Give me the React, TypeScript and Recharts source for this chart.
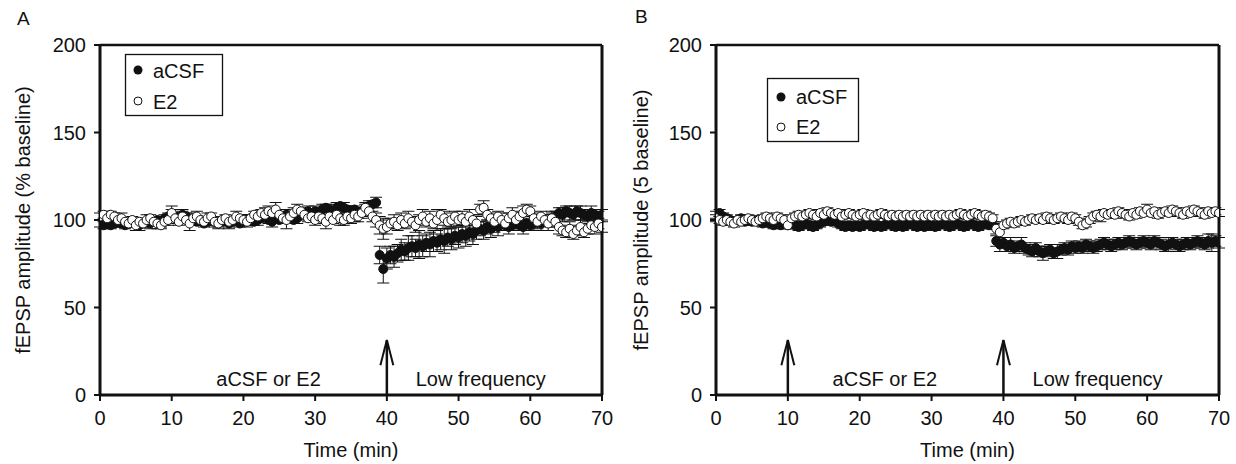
import React from 'react';
import {
  ScatterChart,
  Scatter,
  XAxis,
  YAxis,
  ErrorBar,
  ReferenceLine,
  ReferenceDot,
  Label,
} from 'recharts';

const FONT = '"Liberation Sans", Arial, Helvetica, sans-serif';
const INK = '#111';

const X_TICKS = [0, 10, 20, 30, 40, 50, 60, 70];
const Y_TICKS = [0, 50, 100, 150, 200];

// sampling times (min), every 30 s
const TIMES = Array.from({ length: 141 }, (_, i) => i * 0.5);

// Panel A — aCSF (filled)
const A_ACSF = [
  98, 97, 98, 97, 98, 99, 98, 97, 98, 99,
  98, 97, 98, 99, 98, 99, 100, 99, 101, 102,
  103, 102, 101, 103, 102, 100, 101, 99, 100, 98,
  99, 100, 99, 98, 99, 100, 98, 99, 100, 98,
  99, 100, 101, 99, 100, 101, 102, 100, 99, 101,
  100, 101, 103, 102, 100, 101, 103, 104, 105, 104,
  105, 104, 106, 107, 106, 105, 107, 108, 107, 106,
  105, 106, 104, 105, 107, 108, 109, 110, 80, 72,
  78, 80, 79, 81, 83, 82, 84, 85, 84, 86,
  85, 87, 86, 88, 87, 89, 88, 90, 89, 91,
  90, 92, 91, 93, 92, 94, 95, 94, 96, 95,
  97, 96, 98, 97, 96, 97, 98, 97, 96, 98,
  97, 98, 99, 98, 100, 99, 101, 102, 104, 103,
  105, 104, 103, 105, 104, 103, 102, 104, 103, 102,
  103,
];
const A_ACSF_ERR = [
  2, 2, 2, 2, 2, 3, 2, 2, 2, 2,
  2, 3, 2, 2, 3, 2, 2, 3, 2, 2,
  3, 2, 2, 3, 2, 2, 3, 2, 2, 2,
  2, 2, 3, 2, 2, 2, 3, 2, 2, 2,
  2, 3, 2, 2, 3, 2, 2, 2, 3, 2,
  2, 2, 3, 2, 2, 3, 2, 2, 3, 2,
  3, 2, 3, 2, 3, 2, 3, 2, 3, 2,
  3, 2, 3, 2, 3, 3, 2, 3, 5, 8,
  6, 5, 6, 5, 6, 5, 7, 6, 5, 8,
  6, 5, 7, 6, 5, 6, 7, 5, 6, 5,
  6, 5, 6, 5, 6, 5, 4, 5, 4, 5,
  4, 5, 4, 3, 4, 3, 4, 3, 4, 3,
  3, 4, 3, 4, 3, 3, 4, 3, 3, 4,
  3, 4, 3, 3, 4, 3, 3, 4, 3, 3,
  3,
];

// Panel A — E2 (open)
const A_E2 = [
  102, 103, 101, 103, 102, 100, 101, 99, 98, 100,
  97, 99, 98, 100, 101, 99, 98, 97, 99, 100,
  104, 101, 99, 102, 100, 98, 101, 102, 100, 99,
  101, 102, 99, 98, 100, 101, 99, 100, 102, 101,
  100, 99, 101, 103, 102, 104, 103, 105, 104, 106,
  103, 101, 100, 102, 104, 106, 105, 103, 101, 102,
  100, 102, 101, 99, 102, 100, 103, 101, 100, 102,
  101, 103, 102, 104, 107, 105, 102, 100, 97, 95,
  96, 98, 99, 97, 100, 98, 101, 99, 97, 100,
  102, 99, 101, 98, 100, 103, 101, 99, 100, 102,
  100, 101, 99, 102, 100, 98, 106, 107, 103, 101,
  99, 102, 100, 98, 101, 103, 100, 102, 104, 106,
  105, 101, 99, 102, 100, 98, 101, 99, 96, 94,
  93, 95, 92, 94, 96, 93, 95, 97, 96, 98,
  96,
];
const A_E2_ERR = [
  2, 2, 3, 2, 2, 2, 3, 2, 2, 2,
  3, 2, 2, 3, 2, 2, 3, 2, 2, 3,
  4, 3, 2, 3, 2, 4, 2, 3, 2, 2,
  3, 2, 2, 3, 2, 2, 3, 2, 3, 2,
  2, 3, 2, 2, 3, 2, 4, 3, 2, 4,
  3, 2, 5, 2, 3, 3, 2, 3, 2, 3,
  3, 2, 3, 4, 3, 2, 3, 4, 3, 3,
  3, 4, 3, 3, 2, 3, 3, 4, 5, 6,
  4, 3, 4, 3, 4, 3, 4, 3, 4, 3,
  4, 3, 4, 3, 6, 3, 4, 3, 4, 3,
  3, 4, 3, 4, 3, 4, 3, 4, 3, 3,
  4, 3, 4, 3, 3, 4, 3, 3, 4, 3,
  3, 3, 4, 3, 3, 4, 3, 3, 4, 3,
  3, 4, 3, 3, 4, 3, 3, 3, 4, 3,
  3,
];

// Panel B — aCSF (filled)
const B_ACSF = [
  103, 104, 102, 101, 100, 99, 100, 101, 99, 100,
  99, 100, 99, 98, 99, 98, 97, 98, 97, 98,
  97, 98, 97, 96, 97, 98, 97, 96, 97, 98,
  99, 100, 99, 100, 98, 97, 96, 97, 96, 97,
  96, 97, 98, 97, 96, 97, 96, 97, 98, 97,
  96, 97, 96, 97, 98, 97, 96, 97, 96, 97,
  97, 96, 97, 98, 97, 96, 97, 98, 97, 96,
  97, 98, 97, 96, 97, 98, 97, 97, 88, 86,
  87, 85, 86, 84, 85, 86, 84, 83, 82, 84,
  82, 81, 82, 83, 81, 82, 83, 84, 83, 85,
  84, 85, 84, 86, 85, 84, 85, 86, 87, 86,
  85, 86, 87, 86, 87, 88, 87, 86, 87, 88,
  87, 86, 88, 87, 86, 85, 86, 87, 86, 85,
  86, 87, 86, 87, 88, 87, 86, 88, 87, 88,
  87,
];
const B_ACSF_ERR = [
  2, 2, 2, 2, 2, 2, 2, 2, 2, 2,
  2, 2, 2, 2, 2, 2, 2, 2, 2, 2,
  2, 2, 2, 2, 2, 2, 2, 2, 2, 2,
  2, 2, 2, 2, 2, 2, 2, 2, 2, 2,
  2, 2, 2, 2, 2, 2, 2, 2, 2, 2,
  2, 2, 2, 2, 2, 2, 2, 2, 2, 2,
  2, 2, 2, 2, 2, 2, 2, 2, 2, 2,
  2, 2, 2, 2, 2, 2, 2, 2, 3, 4,
  3, 3, 4, 3, 3, 4, 3, 3, 3, 3,
  3, 4, 3, 3, 3, 4, 3, 3, 3, 3,
  3, 3, 3, 3, 3, 3, 3, 3, 3, 3,
  3, 3, 3, 3, 3, 3, 3, 3, 3, 3,
  3, 3, 3, 3, 3, 3, 4, 3, 3, 3,
  3, 3, 3, 3, 3, 3, 3, 4, 5, 3,
  3,
];

// Panel B — E2 (open)
const B_E2 = [
  101, 100, 99, 100, 99, 98, 100, 99, 100, 101,
  100, 99, 100, 101, 102, 101, 100, 102, 101, 100,
  97, 101, 102, 103, 102, 103, 104, 103, 102, 104,
  103, 105, 104, 103, 104, 102, 103, 104, 103, 102,
  103, 104, 102, 103, 102, 103, 104, 103, 102, 103,
  102, 103, 102, 103, 102, 103, 102, 103, 102, 103,
  102, 103, 102, 103, 102, 103, 102, 103, 104, 103,
  102, 103, 104, 103, 102, 103, 102, 101, 95, 93,
  97, 98, 99, 98, 99, 100, 99, 100, 101, 100,
  101, 100, 102, 101, 100, 101, 102, 101, 100, 102,
  101, 99, 97, 98, 100, 102, 103, 102, 104, 103,
  104, 103, 105, 104, 103, 102, 104, 103, 105, 104,
  106, 104, 105, 103, 104, 105, 104, 106, 105, 104,
  103, 105, 104, 106, 105, 104, 103, 105, 104, 105,
  104,
];
const B_E2_ERR = [
  2, 2, 2, 2, 2, 2, 2, 2, 2, 2,
  2, 2, 2, 2, 2, 2, 2, 2, 2, 2,
  2, 2, 2, 2, 2, 2, 2, 2, 2, 2,
  2, 2, 2, 2, 2, 2, 2, 2, 2, 2,
  2, 2, 2, 2, 2, 2, 2, 2, 2, 2,
  2, 2, 2, 2, 2, 2, 2, 2, 2, 2,
  2, 2, 2, 2, 2, 2, 2, 2, 2, 2,
  2, 2, 2, 2, 2, 2, 2, 2, 3, 3,
  2, 2, 2, 2, 2, 2, 2, 2, 2, 2,
  2, 2, 2, 2, 2, 2, 2, 2, 2, 2,
  2, 2, 2, 2, 2, 2, 2, 3, 2, 2,
  2, 2, 2, 2, 2, 2, 2, 2, 2, 2,
  3, 2, 2, 2, 2, 2, 2, 2, 2, 2,
  2, 2, 2, 2, 2, 2, 2, 2, 2, 2,
  2,
];

const A_ARROWS = [40];
const B_ARROWS = [10, 40];
const NOTE_TREATMENT = 'aCSF or E2';
const NOTE_STIM = 'Low frequency';

function build(values: number[], errs: number[]) {
  return TIMES.map((t, i) => ({ t, v: values[i], e: errs[i] }));
}

const filledShape = (p: any) => (
  <circle cx={p.cx} cy={p.cy} r={4.5} fill={INK} stroke={INK} strokeWidth={1} />
);
const openShape = (p: any) => (
  <circle cx={p.cx} cy={p.cy} r={4.5} fill="#fff" stroke={INK} strokeWidth={1} />
);

const textStyle = { fill: INK, fontSize: 20, fontFamily: FONT };

function Panel(props: {
  acsf: number[];
  acsfErr: number[];
  e2: number[];
  e2Err: number[];
  yTitle: string;
  arrows: number[];
  marginLeft: number;
  marginRight: number;
}) {
  const { acsf, acsfErr, e2, e2Err, yTitle, arrows, marginLeft, marginRight } = props;
  const dAcsf = build(acsf, acsfErr);
  const dE2 = build(e2, e2Err);
  return (
    <ScatterChart
      width={618}
      height={464}
      margin={{ top: 45, right: marginRight, bottom: 0, left: marginLeft }}
    >
      <XAxis
        type="number"
        dataKey="t"
        domain={[0, 70]}
        ticks={X_TICKS}
        interval={0}
        allowDataOverflow
        height={69}
        axisLine={{ stroke: INK, strokeWidth: 3 }}
        tickLine={{ stroke: INK, strokeWidth: 2 }}
        tickSize={6}
        tickMargin={10}
        tick={textStyle}
      >
        <Label value="Time (min)" position="insideBottom" offset={7} style={textStyle} />
      </XAxis>
      <YAxis
        type="number"
        dataKey="v"
        domain={[0, 200]}
        ticks={Y_TICKS}
        interval={0}
        allowDataOverflow
        width={60}
        axisLine={{ stroke: INK, strokeWidth: 3 }}
        tickLine={{ stroke: INK, strokeWidth: 2 }}
        tickSize={6}
        tickMargin={8}
        tick={textStyle}
      >
        <Label
          content={(lp: any) => {
            const vb = lp.viewBox || { x: 0, y: 45, width: 60, height: 350 };
            const cy = vb.y + vb.height / 2;
            const bx = 30;
            return (
              <text
                x={bx}
                y={cy}
                transform={`rotate(-90, ${bx}, ${cy})`}
                textAnchor="middle"
                fill={INK}
                fontSize={20}
                fontFamily={FONT}
              >
                {yTitle}
              </text>
            );
          }}
        />
      </YAxis>
      <ReferenceLine y={200} stroke={INK} strokeWidth={2.5} />
      <ReferenceLine x={70} stroke={INK} strokeWidth={3} />
      {arrows.map((a) => (
        <ReferenceLine
          key={`s${a}`}
          segment={[
            { x: a, y: 0 },
            { x: a, y: 31 },
          ]}
          stroke={INK}
          strokeWidth={2.5}
        />
      ))}
      {arrows.map((a) => (
        <ReferenceLine
          key={`l${a}`}
          segment={[
            { x: a - 0.9, y: 17 },
            { x: a, y: 31.5 },
          ]}
          stroke={INK}
          strokeWidth={2}
        />
      ))}
      {arrows.map((a) => (
        <ReferenceLine
          key={`r${a}`}
          segment={[
            { x: a + 0.9, y: 17 },
            { x: a, y: 31.5 },
          ]}
          stroke={INK}
          strokeWidth={2}
        />
      ))}
      <ReferenceDot
        x={23.5}
        y={9}
        r={0}
        stroke="none"
        fill="none"
        label={{ value: NOTE_TREATMENT, position: 'center', ...textStyle }}
      />
      <ReferenceDot
        x={53.1}
        y={9}
        r={0}
        stroke="none"
        fill="none"
        label={{ value: NOTE_STIM, position: 'center', ...textStyle }}
      />
      <Scatter data={dAcsf} shape={filledShape} isAnimationActive={false}>
        <ErrorBar dataKey="e" direction="y" width={6} stroke={INK} strokeWidth={1} />
      </Scatter>
      <Scatter data={dE2} shape={openShape} isAnimationActive={false}>
        <ErrorBar dataKey="e" direction="y" width={6} stroke={INK} strokeWidth={1} />
      </Scatter>
    </ScatterChart>
  );
}

function LegendBox(props: { x: number; y: number; w: number; h: number; cx: number; tx: number; r1: number; r2: number; b1: number; b2: number }) {
  const { x, y, w, h, cx, tx, r1, r2, b1, b2 } = props;
  return (
    <g>
      <rect x={x} y={y} width={w} height={h} fill="#fff" stroke={INK} strokeWidth={1.3} />
      <circle cx={cx} cy={r1} r={4.5} fill={INK} />
      <text x={tx} y={b1} fill={INK} fontSize={20} fontFamily={FONT}>aCSF</text>
      <circle cx={cx} cy={r2} r={4} fill="#fff" stroke={INK} strokeWidth={1} />
      <text x={tx} y={b2} fill={INK} fontSize={20} fontFamily={FONT}>E2</text>
    </g>
  );
}

export default function App() {
  return (
    <div style={{ position: 'absolute', left: 0, top: 0, width: 1236, height: 464, background: '#fff' }}>
      <div style={{ position: 'absolute', left: 0, top: 0 }}>
        <Panel
          acsf={A_ACSF}
          acsfErr={A_ACSF_ERR}
          e2={A_E2}
          e2Err={A_E2_ERR}
          yTitle="fEPSP amplitude (% baseline)"
          arrows={A_ARROWS}
          marginLeft={40}
          marginRight={16}
        />
      </div>
      <div style={{ position: 'absolute', left: 618, top: 0 }}>
        <Panel
          acsf={B_ACSF}
          acsfErr={B_ACSF_ERR}
          e2={B_E2}
          e2Err={B_E2_ERR}
          yTitle="fEPSP amplitude (5 baseline)"
          arrows={B_ARROWS}
          marginLeft={38}
          marginRight={17}
        />
      </div>
      <svg
        width={1236}
        height={464}
        style={{ position: 'absolute', left: 0, top: 0, pointerEvents: 'none' }}
      >
        <text x={17} y={25} fill={INK} fontSize={19} fontFamily={FONT}>A</text>
        <text x={635} y={23} fill={INK} fontSize={19} fontFamily={FONT}>B</text>
        <LegendBox x={125.5} y={54.5} w={97} h={61} cx={138} tx={153} r1={70} r2={101} b1={78} b2={109} />
        <LegendBox x={767.5} y={78.5} w={91} h={63} cx={781} tx={796} r1={97} r2={127} b1={104} b2={134} />
      </svg>
    </div>
  );
}
